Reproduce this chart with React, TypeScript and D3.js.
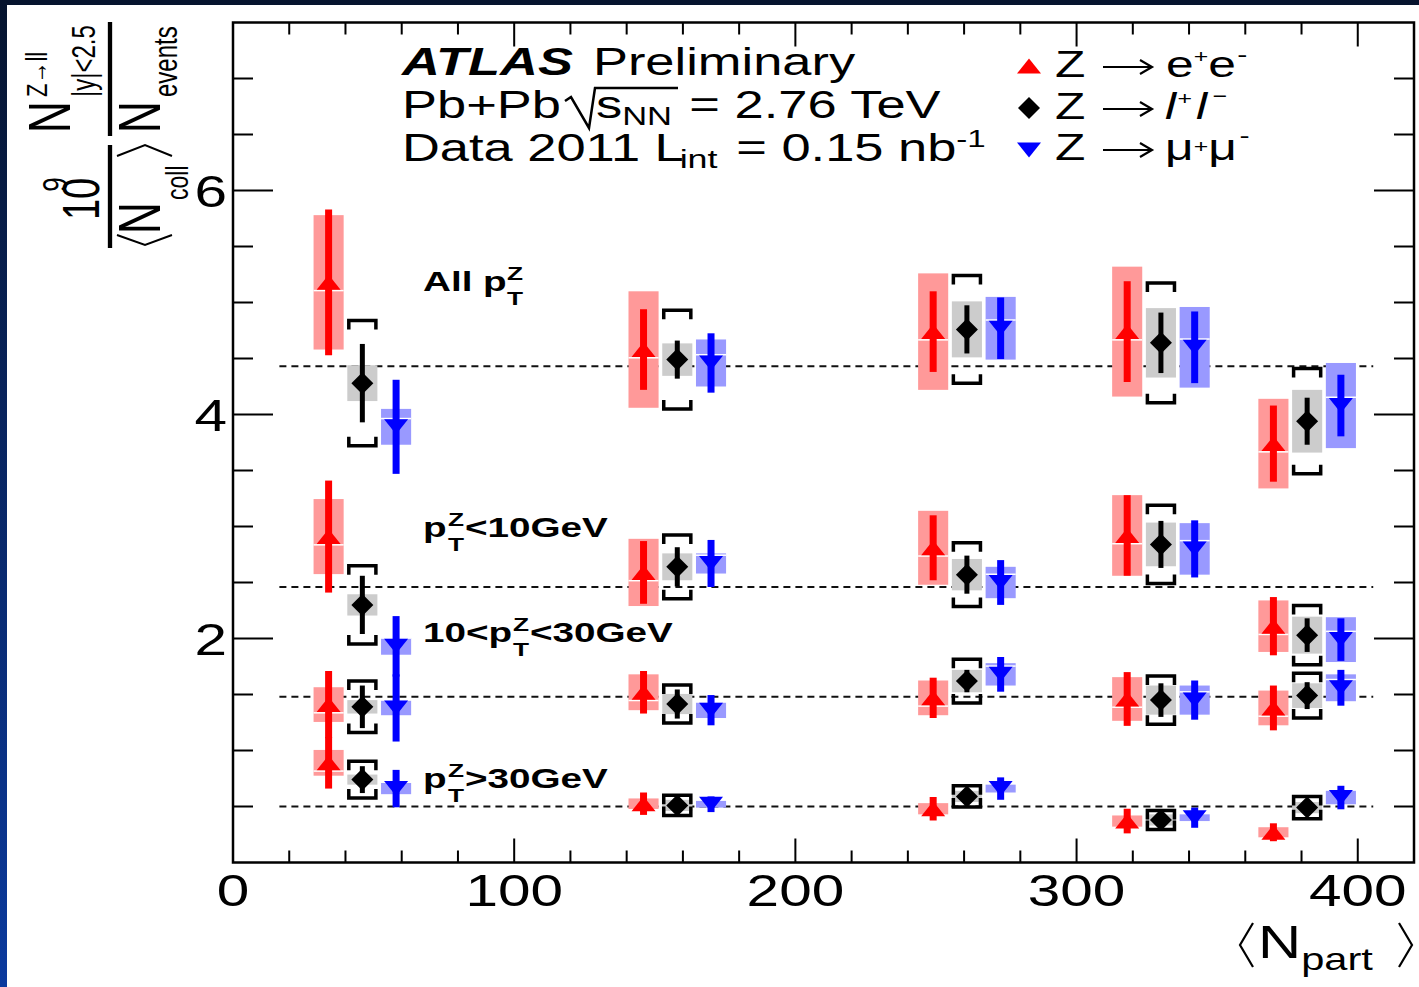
import React, { useEffect, useRef } from 'react';
import * as d3 from 'd3';

// <Npart> of the centrality bins (40-80%, 20-40%, 10-20%, 5-10%, 0-5%)
const npart = [46, 158, 261, 330, 382];
// dashed lines: average yield of each pT class
const avgLevels = [4.43, 2.46, 1.48, 0.5];
const xTicks = [0, 100, 200, 300, 400];
const yTicks = [2, 4, 6];

// rows: All pT, pT<10, 10<pT<30, pT>30 ; columns: centrality bins
const eeValue = [
  [5.18, 4.58, 4.74, 4.74, 3.74],
  [2.91, 2.59, 2.81, 2.92, 2.11],
  [1.41, 1.52, 1.47, 1.46, 1.38],
  [0.89, 0.525, 0.48, 0.37, 0.27],
];
const eeStat = [
  [0.65, 0.36, 0.36, 0.45, 0.34],
  [0.5, 0.28, 0.29, 0.36, 0.26],
  [0.3, 0.19, 0.18, 0.24, 0.2],
  [0.23, 0.1, 0.105, 0.11, 0.08],
];
const eeSyst = [
  [0.6, 0.52, 0.52, 0.58, 0.4],
  [0.335, 0.3, 0.33, 0.36, 0.23],
  [0.155, 0.16, 0.155, 0.195, 0.155],
  [0.115, 0.047, 0.05, 0.05, 0.045],
];

const llValue = [
  [4.28, 4.49, 4.76, 4.64, 3.94],
  [2.3, 2.64, 2.57, 2.84, 2.03],
  [1.39, 1.415, 1.62, 1.45, 1.49],
  [0.74, 0.51, 0.59, 0.38, 0.49],
];
const llStat = [
  [0.35, 0.17, 0.215, 0.27, 0.21],
  [0.26, 0.175, 0.17, 0.21, 0.15],
  [0.19, 0.13, 0.1, 0.15, 0.12],
  [0.12, 0.04, 0.05, 0.04, 0.05],
];
const llSyst = [
  [0.16, 0.145, 0.25, 0.31, 0.28],
  [0.095, 0.12, 0.14, 0.195, 0.165],
  [0.06, 0.09, 0.1, 0.13, 0.11],
  [0.045, 0.05, 0.05, 0.05, 0.05],
];
// brackets (Ncoll uncertainty)
const llNcoll = [
  [0.56, 0.44, 0.48, 0.535, 0.47],
  [0.35, 0.285, 0.285, 0.35, 0.265],
  [0.23, 0.17, 0.195, 0.215, 0.2],
  [0.165, 0.09, 0.095, 0.085, 0.1],
];

const mmValue = [
  [3.89, 4.46, 4.77, 4.6, 4.08],
  [1.93, 2.67, 2.5, 2.8, 1.99],
  [1.38, 1.36, 1.68, 1.45, 1.56],
  [0.66, 0.52, 0.66, 0.4, 0.58],
];
const mmStat = [
  [0.42, 0.265, 0.275, 0.32, 0.275],
  [0.27, 0.21, 0.2, 0.255, 0.19],
  [0.3, 0.135, 0.155, 0.175, 0.16],
  [0.167, 0.07, 0.1, 0.09, 0.105],
];
const mmSyst = [
  [0.16, 0.21, 0.28, 0.36, 0.38],
  [0.075, 0.09, 0.14, 0.23, 0.2],
  [0.065, 0.07, 0.1, 0.13, 0.12],
  [0.05, 0.03, 0.035, 0.03, 0.06],
];

const W = 1419;
const H = 987;
const FONT = '"Liberation Sans", Arial, Helvetica, sans-serif';
const SX = 1.38; // the picture is stretched sideways

const markerPath = (kind: string, cx: number, cy: number) => {
  if (kind === 'up') return `M${cx - 12},${cy + 7.5}L${cx + 12},${cy + 7.5}L${cx},${cy - 7.5}Z`;
  if (kind === 'down') return `M${cx - 12},${cy - 7.5}L${cx + 12},${cy - 7.5}L${cx},${cy + 7.5}Z`;
  return `M${cx},${cy - 11}L${cx + 11},${cy}L${cx},${cy + 11}L${cx - 11},${cy}Z`;
};

const App = () => {
  const svgRef = useRef<SVGSVGElement>(null);

  useEffect(() => {
    const svg = d3.select(svgRef.current);
    svg.selectAll('*').remove();

    const x = d3.scaleLinear().domain([0, 420]).range([233, 1414]);
    const y = d3.scaleLinear().domain([0, 7.5]).range([862.5, 22.5]);

    // slide background
    const defs = svg.append('defs');
    const grad = defs.append('linearGradient').attr('id', 'bg')
      .attr('x1', 0).attr('y1', 0).attr('x2', 0).attr('y2', 1);
    grad.append('stop').attr('offset', '0%').attr('stop-color', '#06142e');
    grad.append('stop').attr('offset', '100%').attr('stop-color', '#0b3a9e');
    svg.append('rect').attr('width', W).attr('height', H).attr('fill', 'url(#bg)');
    svg.append('rect').attr('x', 7).attr('y', 5).attr('width', W - 7).attr('height', H - 5).attr('fill', '#fff');

    const stext = (px: number, py: number, str: string, size: number, opt: any = {}) => {
      const t = svg.append('text')
        .attr('transform', `translate(${px},${py}) scale(${opt.sx || SX},1)`)
        .attr('font-family', FONT)
        .attr('font-size', size)
        .attr('fill', '#000')
        .text(str);
      if (opt.weight) t.attr('font-weight', opt.weight);
      if (opt.style) t.attr('font-style', opt.style);
      if (opt.anchor) t.attr('text-anchor', opt.anchor);
      return t;
    };
    // extra piece of a text: sub/superscript etc
    const piece = (t: any, str: string, size: number, dy: number, dx = 0, style = '') => {
      const s = t.append('tspan').attr('font-size', size).attr('dy', dy).attr('dx', dx).text(str);
      if (style) s.attr('font-style', style);
      return t;
    };

    // dashed average lines
    svg.selectAll('.avg')
      .data(avgLevels)
      .enter()
      .append('line')
      .attr('x1', x(16.5)).attr('x2', x(405.5))
      .attr('y1', d => y(d)).attr('y2', d => y(d))
      .attr('stroke', '#111').attr('stroke-width', 2)
      .attr('stroke-dasharray', '7,5');

    const channels = [
      { value: eeValue, stat: eeStat, syst: eeSyst, dx: -12, line: '#ff0000', box: '#ff9999', lw: 7, kind: 'up' },
      { value: llValue, stat: llStat, syst: llSyst, ncoll: llNcoll, dx: 0, line: '#000000', box: '#cccccc', lw: 5, kind: 'diamond' },
      { value: mmValue, stat: mmStat, syst: mmSyst, dx: 12, line: '#0000ff', box: '#9999ff', lw: 7, kind: 'down' },
    ];
    const pts: any[] = [];
    channels.forEach((ch: any) => {
      ch.value.forEach((row: number[], c: number) => {
        row.forEach((v, i) => {
          pts.push({
            ch, xv: npart[i] + ch.dx, v,
            st: ch.stat[c][i], sy: ch.syst[c][i],
            nc: ch.ncoll ? ch.ncoll[c][i] : 0,
          });
        });
      });
    });
    const hw = 5.35;

    // systematic boxes
    svg.selectAll('.box')
      .data(pts)
      .enter()
      .append('rect')
      .attr('x', d => x(d.xv - hw))
      .attr('width', d => x(d.xv + hw) - x(d.xv - hw))
      .attr('y', d => y(d.v + d.sy))
      .attr('height', d => y(d.v - d.sy) - y(d.v + d.sy))
      .attr('fill', d => d.ch.box);

    // thin white seam where the marker edge meets the box
    svg.selectAll('.seam')
      .data(pts.filter(d => d.ch.kind !== 'diamond'))
      .enter()
      .append('rect')
      .attr('x', d => x(d.xv - hw))
      .attr('width', d => x(d.xv + hw) - x(d.xv - hw))
      .attr('y', d => (d.ch.kind === 'up' ? y(d.v) + 7.5 : y(d.v) - 9))
      .attr('height', 1.5)
      .attr('fill', '#fff');

    // Ncoll brackets
    svg.selectAll('.bracket')
      .data(pts.filter(d => d.nc > 0))
      .enter()
      .append('path')
      .attr('d', d => {
        const x0 = x(d.xv - hw) + 1.5, x1 = x(d.xv + hw) - 1.5;
        const yt = y(d.v + d.nc), yb = y(d.v - d.nc);
        return `M${x0},${yt + 9}V${yt}H${x1}V${yt + 9}M${x0},${yb - 9}V${yb}H${x1}V${yb - 9}`;
      })
      .attr('fill', 'none')
      .attr('stroke', '#000')
      .attr('stroke-width', 3.5);

    // statistical error bars
    svg.selectAll('.stat')
      .data(pts)
      .enter()
      .append('line')
      .attr('x1', d => x(d.xv)).attr('x2', d => x(d.xv))
      .attr('y1', d => y(d.v + d.st)).attr('y2', d => y(d.v - d.st))
      .attr('stroke', d => d.ch.line)
      .attr('stroke-width', d => d.ch.lw);

    // markers
    svg.selectAll('.marker')
      .data(pts)
      .enter()
      .append('path')
      .attr('d', d => markerPath(d.ch.kind, x(d.xv), y(d.v)))
      .attr('fill', d => d.ch.line);

    // frame and ticks
    svg.append('rect')
      .attr('x', x(0)).attr('y', y(7.5))
      .attr('width', x(420) - x(0)).attr('height', y(0) - y(7.5))
      .attr('fill', 'none').attr('stroke', '#000').attr('stroke-width', 2.5);

    const xMinor = d3.range(20, 420, 20);
    svg.selectAll('.xtick')
      .data(xMinor)
      .enter()
      .append('path')
      .attr('d', d => {
        const len = d % 100 === 0 ? 24 : 12;
        return `M${x(d)},${y(0)}v${-len}M${x(d)},${y(7.5)}v${len}`;
      })
      .attr('stroke', '#000').attr('stroke-width', 2);

    const yMinor = d3.range(0.5, 7.5, 0.5);
    svg.selectAll('.ytick')
      .data(yMinor)
      .enter()
      .append('path')
      .attr('d', d => {
        const len = d % 2 === 0 ? 40 : 20;
        return `M${x(0)},${y(d)}h${len}M${x(420)},${y(d)}h${-len}`;
      })
      .attr('stroke', '#000').attr('stroke-width', 2);

    xTicks.forEach(t => stext(x(t), 906, String(t), 45, { anchor: 'middle', sx: 1.3 }));
    yTicks.forEach(t => stext(227, y(t) + 16, String(t), 45, { anchor: 'end', sx: 1.3 }));

    // x axis title <N_part>
    piece(stext(1258, 958, 'N', 46, { sx: 1.3 }), 'part', 32, 12);
    svg.append('path')
      .attr('d', 'M1253,923L1240,945L1253,967M1399,923L1412,945L1399,967')
      .attr('fill', 'none').attr('stroke', '#000').attr('stroke-width', 2.2);

    // y axis title (drawn in a rotated frame)
    const yt = svg.append('g')
      .attr('transform', 'translate(110,250) scale(1.35,1) rotate(-90)')
      .attr('font-family', FONT).attr('fill', '#000');
    const tt = (u: number, v: number, s: string, size: number) =>
      yt.append('text').attr('x', u).attr('y', v).attr('font-size', size).text(s);
    yt.append('path').attr('d', 'M2,0H105M114,0H228').attr('stroke', '#000').attr('stroke-width', 3.2);
    piece(tt(30, -8, '10', 38), '9', 26, -24, -14);
    tt(16, 37, 'N', 44);
    tt(50, 58, 'coll', 23);
    tt(117, -30, 'N', 44);
    tt(153, -47, 'Z\u2192ll', 22);
    tt(153, -11, '|y|<2.5', 24);
    tt(117, 37, 'N', 44);
    tt(153, 50, 'events', 24);
    svg.append('path')
      .attr('d', 'M117,235L145,245L172,235M117,156L145,145L172,156')
      .attr('fill', 'none').attr('stroke', '#000').attr('stroke-width', 2);

    // header
    const l1 = stext(402, 75, 'ATLAS', 38, { weight: 'bold', style: 'italic' });
    l1.append('tspan').attr('dx', 4).attr('font-weight', 'normal').attr('font-style', 'normal').text(' Preliminary');
    stext(402, 118, 'Pb+Pb', 38);
    svg.append('path')
      .attr('d', 'M565,101L571,97L589,128L595,88L678,88')
      .attr('fill', 'none').attr('stroke', '#000').attr('stroke-width', 2.5);
    const l2 = stext(596, 118, 's', 38);
    piece(l2, 'NN', 25, 7);
    piece(l2, ' = 2.76 TeV', 38, -7, 2);
    const l3 = stext(402, 161, 'Data 2011 L', 38);
    piece(l3, 'int', 26, 7, -3);
    piece(l3, ' = 0.15 nb', 38, -7, 3);
    piece(l3, '-1', 24, -14);

    // legend
    const legRows = [
      { kind: 'up', color: '#ff0000', my: 66, base: 77 },
      { kind: 'diamond', color: '#000000', my: 108, base: 119 },
      { kind: 'down', color: '#0000ff', my: 150, base: 160 },
    ];
    legRows.forEach(r => {
      svg.append('path').attr('d', markerPath(r.kind, 1029, r.my)).attr('fill', r.color);
      stext(1055, r.base, 'Z', 36);
      const ay = r.base - 10;
      svg.append('path')
        .attr('d', `M1103,${ay}H1152M1140,${ay - 7}L1152,${ay}L1140,${ay + 7}`)
        .attr('fill', 'none').attr('stroke', '#000').attr('stroke-width', 2.2);
    });
    const e1 = stext(1166, 77, 'e', 36);
    piece(e1, '+', 18, -14);
    piece(e1, 'e', 36, 14);
    piece(e1, '-', 22, -15, 1);
    const e2 = stext(1165, 119, 'l', 36, { style: 'italic' });
    piece(e2, '+', 18, -14, 1, 'normal');
    piece(e2, 'l', 36, 14, 3);
    piece(e2, '\u2212', 18, -17, 4, 'normal');
    const e3 = stext(1165, 160, '\u03bc', 36);
    piece(e3, '+', 18, -7);
    piece(e3, '\u03bc', 36, 7);
    piece(e3, '-', 22, -17, 2);

    // pT class labels
    const lab = (px: number, py: number, s: string) => stext(px, py, s, 28, { weight: 'bold' });
    const pt = (px: number, py: number) => {
      stext(px, py - 11.5, 'Z', 19, { weight: 'bold' });
      stext(px, py + 13.5, 'T', 19, { weight: 'bold' });
    };
    lab(423, 291, 'All p');
    pt(507, 291);
    lab(423, 537, 'p');
    pt(448, 537);
    lab(465, 537, '<10GeV');
    lab(423, 642, '10<p');
    pt(513, 642);
    lab(530, 642, '<30GeV');
    lab(423, 788, 'p');
    pt(448, 788);
    lab(465, 788, '>30GeV');
  }, []);

  return (
    <div style={{ position: 'absolute', left: 0, top: 0 }}>
      <svg ref={svgRef} width={W} height={H} style={{ display: 'block' }} />
    </div>
  );
};

export default App;
